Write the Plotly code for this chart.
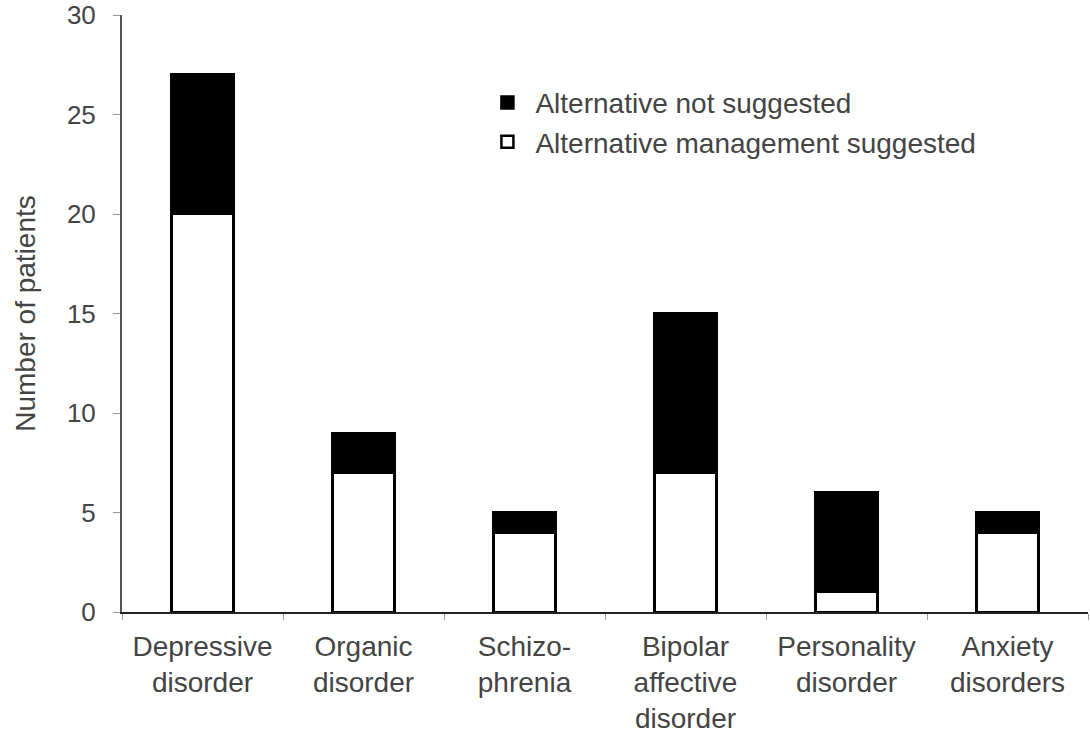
import plotly.graph_objects as go

categories = ["Depressive<br>disorder", "Organic<br>disorder", "Schizo-<br>phrenia",
              "Bipolar<br>affective<br>disorder", "Personality<br>disorder", "Anxiety<br>disorders"]
suggested = [20, 7, 4, 7, 1, 4]
not_suggested = [7, 2, 1, 8, 5, 1]
y_ticks = [0, 5, 10, 15, 20, 25, 30]

FONT = "Liberation Sans, Arial, sans-serif"
TXT = "#444444"

fig = go.Figure()
fig.add_trace(go.Bar(
    x=categories, y=suggested, name="Alternative management suggested",
    marker=dict(color="white", line=dict(color="black", width=2.5)), width=0.385,
))
fig.add_trace(go.Bar(
    x=categories, y=not_suggested, name="Alternative not suggested",
    marker=dict(color="black", line=dict(color="black", width=2.5)), width=0.385,
))

fig.update_layout(
    width=1090, height=737,
    margin=dict(l=122, r=2, t=15, b=125),
    barmode="stack",
    plot_bgcolor="white", paper_bgcolor="white",
    font=dict(family=FONT, color=TXT, size=28),
    showlegend=True,
    legend=dict(x=0.370, y=0.895, xanchor="left", yanchor="top",
                traceorder="reversed", font=dict(size=28, color=TXT),
                bgcolor="rgba(0,0,0,0)", itemwidth=46),
    xaxis=dict(
        showline=True, linecolor="#222222", linewidth=2,
        ticks="outside", tickson="boundaries", ticklen=6, tickcolor="#999999",
        tickfont=dict(size=28, color=TXT), showgrid=False, ticklabelstandoff=8,
        range=[-0.5, 5.5], automargin=False,
    ),
    yaxis=dict(
        range=[0, 30], tickvals=y_ticks,
        showline=True, linecolor="#555555", linewidth=2,
        ticks="outside", ticklen=7, tickcolor="#999999",
        tickfont=dict(size=26, color=TXT), ticklabelstandoff=12,
        ticklabeloverflow="allow",
        showgrid=False, zeroline=False, automargin=False,
        title=dict(text="Number of patients", font=dict(size=28, color=TXT), standoff=23),
    ),
)

fig.write_html("out.html", config={"displayModeBar": False},
               post_script="document.body.style.margin='0px';")
